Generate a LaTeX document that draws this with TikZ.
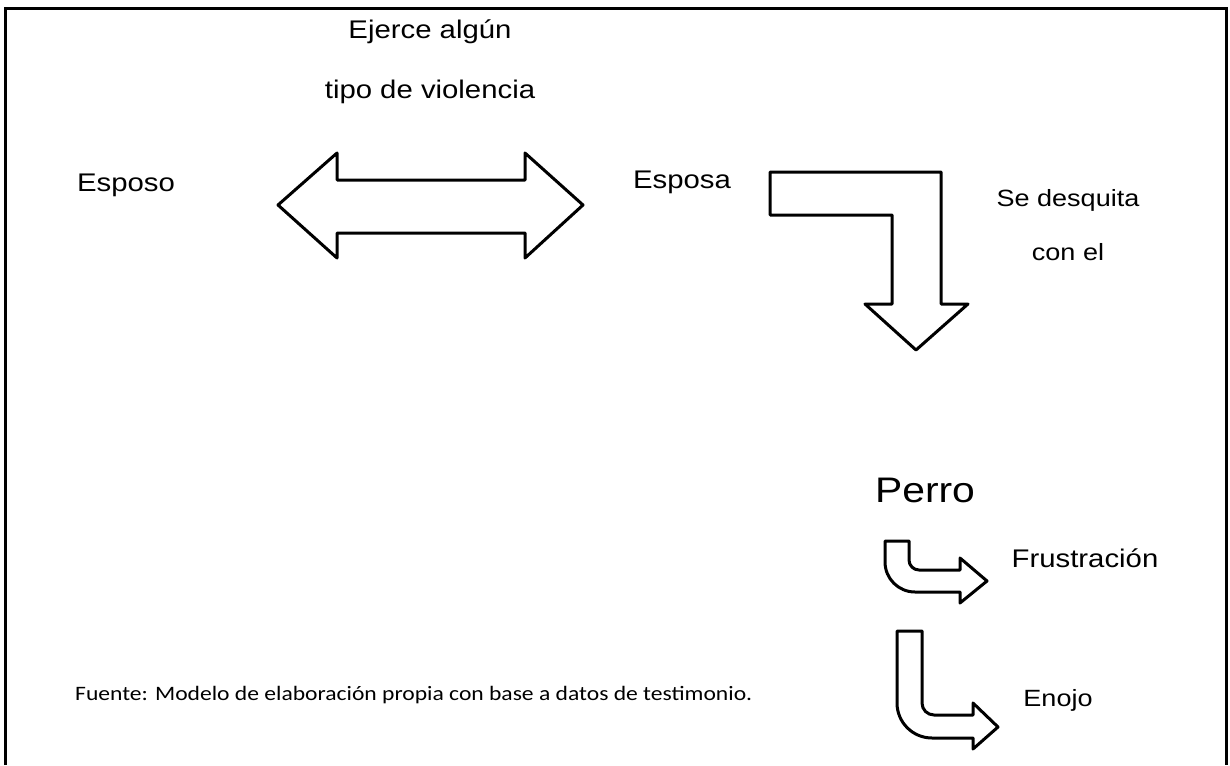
\documentclass[tikz,border=0pt]{standalone}
\usepackage{fontspec}
\setmainfont[FakeStretch=1.15]{Liberation Sans}
\newfontfamily\srcfont[FakeStretch=1.15]{Carlito}
\usepackage{tikz}
\usetikzlibrary{positioning}

\tikzset{
  blockarrow/.style={draw=black, line width=3pt, fill=white, line join=round},
  lbl/.style={inner sep=0pt, font=\fontsize{25.5}{30}\selectfont},
  smalllbl/.style={inner sep=0pt, font=\fontsize{23.5}{28}\selectfont},
}

\begin{document}
\begin{tikzpicture}[x=1pt, y=-1pt]
\useasboundingbox (0,0) rectangle (1230,765);
\draw[black, line width=3pt](5,765) -- (5,9) -- (1226,9) -- (1226,765);
% double arrow
\draw[blockarrow] (278,205) -- (337,153) -- (337,180) -- (525,180) -- (525,153) -- (583,205)
  -- (525,258) -- (525,233) -- (337,233) -- (337,258) -- cycle;
% bent arrow
\draw[blockarrow] (770,172) -- (941,172) -- (941,304) -- (968,304) -- (916,350) -- (865,304)
  -- (892,304) -- (892,215) -- (770,215) -- cycle;
% curved arrows
\draw[blockarrow] (885,541) -- (909,541) -- (909,560) arc[start angle=180, end angle=90, radius=10]
  -- (960,570) -- (960,558) -- (987,581) -- (960,603) -- (960,592) -- (915,592)
  arc[start angle=90, end angle=180, radius=30] -- cycle;
\draw[blockarrow] (897,631) -- (922,631) -- (922,703) arc[start angle=180, end angle=90, radius=12]
  -- (973,715) -- (973,703) -- (998,727) -- (973,749) -- (973,738) -- (932,738)
  arc[start angle=90, end angle=180, radius=35] -- cycle;
% labels
\node[lbl] (ejerce) at (430,32) {Ejerce algún};
\node[lbl] (tipo) at (430,92) {tipo de violencia};
\node[lbl] (esposo) at (126,185) {Esposo};
\node[lbl] (esposa) at (682,182) {Esposa};
\node[smalllbl] (desquita) at (1068,200) {Se desquita};
\node[smalllbl] (conel) at (1068,252) {con el};
\node[inner sep=0pt, font=\fontsize{35.5}{40}\selectfont] (perro) at (925,490) {Perro};
\node[lbl] (frustracion) at (1085,558) {Frustración};
\node[smalllbl] (enojo) at (1058,700) {Enojo};
\node[inner sep=0pt, anchor=west, font=\srcfont\fontsize{20.5}{24}\selectfont] (fuente) at (75,695)
  {Fuente: Modelo de elaboración propia con base a datos de testimonio.};
\end{tikzpicture}
\end{document}
